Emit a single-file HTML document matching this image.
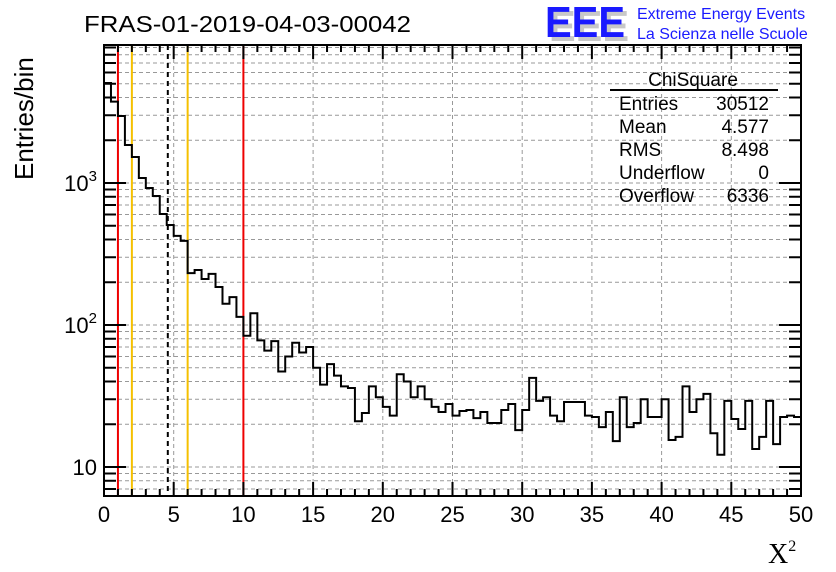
<!DOCTYPE html>
<html><head><meta charset="utf-8"><style>
body{margin:0;background:#fff}
svg{display:block;font-family:"Liberation Sans",sans-serif}
</style></head><body>
<svg width="836" height="572" viewBox="0 0 836 572">
<rect width="836" height="572" fill="#fff"/>
<g id="grid"></g>
<g id="vlines"></g>
<path id="hist" fill="none" stroke="#000" stroke-width="2"/>
<rect x="104" y="45" width="697" height="451" fill="none" stroke="#000" stroke-width="2"/>
<g id="ticks"></g>
<g id="labels" font-size="22"></g>
<text x="84" y="32" font-size="23" textLength="327" lengthAdjust="spacingAndGlyphs">FRAS-01-2019-04-03-00042</text>
<g>
<text x="549" y="41" font-size="44" font-weight="bold" fill="#c8c8c8" textLength="80" lengthAdjust="spacingAndGlyphs">EEE</text>
<text x="545" y="37" font-size="44" font-weight="bold" fill="#1a1aff" textLength="80" lengthAdjust="spacingAndGlyphs">EEE</text>
<text x="637" y="19" font-size="16" fill="#1a1aff">Extreme Energy Events</text>
<text x="637" y="39" font-size="16" fill="#1a1aff">La Scienza nelle Scuole</text>
</g>
<g font-size="19">
<text x="693" y="86" text-anchor="middle">ChiSquare</text>
<line x1="610" y1="90" x2="778" y2="90" stroke="#000" stroke-width="2"/>
<text x="619" y="110">Entries</text><text x="769" y="110" text-anchor="end">30512</text>
<text x="619" y="133">Mean</text><text x="769" y="133" text-anchor="end">4.577</text>
<text x="619" y="156">RMS</text><text x="769" y="156" text-anchor="end">8.498</text>
<text x="619" y="179">Underflow</text><text x="769" y="179" text-anchor="end">0</text>
<text x="619" y="202">Overflow</text><text x="769" y="202" text-anchor="end">6336</text>
</g>
<text x="33" y="180" font-size="26" transform="rotate(-90 33 180)">Entries/bin</text>
<text x="768" y="563" font-size="28" font-family="Liberation Serif,serif">X<tspan font-size="16" dy="-12">2</tspan></text>
</svg>
<script>
const binValues=[5060,3740,2965,1852,1525,1085,922,810,605,506,424,391,232,244,211,229,185,141,157,114,84,121,78,66,77,47,60,75,64,70,50,38,53,44,37,36,21,24,37,31,26.5,23,45,40,31,37,30,26.5,24.4,27.8,23,24.8,25.2,22.1,24.4,20.4,20.4,25.2,27.8,18.2,25.2,42.4,29.2,31,23,21,28.7,28.7,28.7,23,22.5,19.1,24.4,15.2,31,19.1,20.4,30,22.5,22.5,30,15.5,16.3,37,24.4,30,32.7,17.3,12.2,29.2,21.8,18.5,29.2,13.4,16.3,29.2,14.5,22.5,23,22.5];
const xTicks=[0,5,10,15,20,25,30,35,40,45,50];
const yMajor=[10,100,1000];
const yMajorLabels=["10","10","10"];
const yMajorExp=["","2","3"];
const refLines=[{x:1,c:"#e00"},{x:2,c:"#f5c000"},{x:6,c:"#f5c000"},{x:10,c:"#e00"},{x:4.577,c:"#000",d:"5,4"}];
const binWidth=0.5;
const X0=104,X1=801,Y0=45,Y1=496;
const sx=v=>X0+(v/50)*(X1-X0);
const sy=v=>467-(Math.log10(v)-1)*142;
const NS="http://www.w3.org/2000/svg";
function mk(t,a,p){const e=document.createElementNS(NS,t);for(const k in a)e.setAttribute(k,a[k]);p.appendChild(e);return e;}
const grid=document.getElementById('grid'),ticks=document.getElementById('ticks'),labels=document.getElementById('labels');
for(let d=1;d<=1000;d*=10){for(let m=1;m<=9;m++){const v=d*m;const y=sy(v);if(y<Y0||y>Y1)continue;
 const g=mk('line',{x1:X0,x2:X1,y1:y,y2:y,stroke:'#999','stroke-dasharray':'4,3','stroke-width':1},grid);
 
 const L=m===1?22:12;
 const t1=mk('line',{x1:X0,x2:X0+L,y1:y,y2:y,stroke:'#000','stroke-width':2},ticks);
 
 const t2=mk('line',{x1:X1-L,x2:X1,y1:y,y2:y,stroke:'#000','stroke-width':2},ticks);
 }}
yMajor.forEach((v,i)=>{const t=mk('text',{x:97,y:sy(v)+8,'text-anchor':'end'},labels);
 
 t.textContent=yMajorLabels[i];
 if(yMajorExp[i]){const s=mk('tspan',{'font-size':15,dy:-10},t);s.textContent=yMajorExp[i];}});
for(let v=0;v<=50;v+=1){const x=sx(v);const maj=v%5===0;
 if(maj&&v>0&&v<50){const g=mk('line',{x1:x,x2:x,y1:Y0,y2:Y1,stroke:'#999','stroke-dasharray':'4,3','stroke-width':1},grid);
 }
 const L=maj?14:7;
 const a=mk('line',{x1:x,x2:x,y1:Y1-L,y2:Y1,stroke:'#000','stroke-width':2},ticks);
 
 const b=mk('line',{x1:x,x2:x,y1:Y0,y2:Y0+L,stroke:'#000','stroke-width':2},ticks);
 }
xTicks.forEach(v=>{const t=mk('text',{x:sx(v),y:522,'text-anchor':'middle'},labels);
 t.textContent=v;});
const vl=document.getElementById('vlines');
refLines.forEach(r=>{const a={x1:sx(r.x),x2:sx(r.x),y1:Y0,y2:Y1,stroke:r.c,'stroke-width':2};if(r.d)a['stroke-dasharray']=r.d;
 const l=mk('line',a,vl);});
let d='M'+X0+','+Y1;
binValues.forEach((v,i)=>{const y=Math.min(Y1,Math.max(Y0,sy(v)));d+=' L'+sx(i*binWidth)+','+y+' L'+sx((i+1)*binWidth)+','+y;});
document.getElementById('hist').setAttribute('d',d);
</script>
</body></html>
